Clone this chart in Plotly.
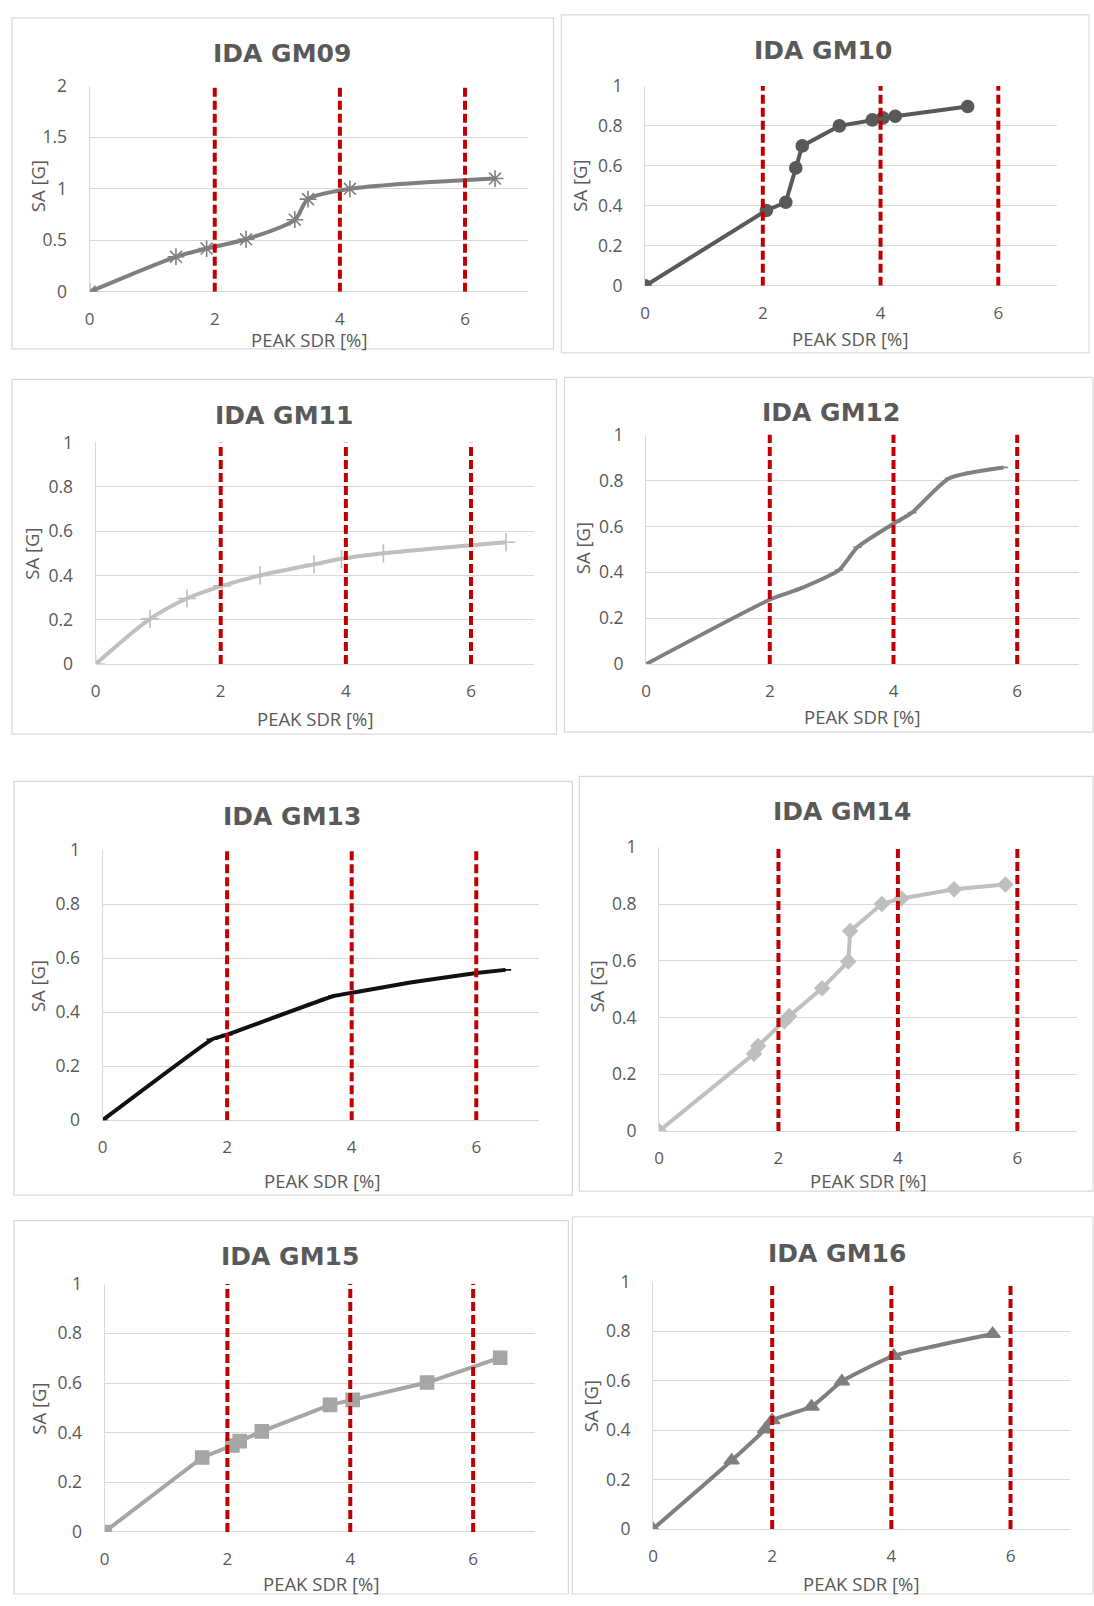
import plotly.graph_objects as go

W, H = 1094, 1606

# ---------------- data ----------------
titles = ["IDA GM09", "IDA GM10", "IDA GM11", "IDA GM12",
          "IDA GM13", "IDA GM14", "IDA GM15", "IDA GM16"]
x_label = "PEAK SDR [%]"
y_label = "SA [G]"
limit_sdr = [2, 4, 6]
x_ticks = [0, 2, 4, 6]

gm09_sdr = [0, 1.38, 1.87, 2.5, 3.28, 3.49, 4.16, 6.48]
gm09_sa = [0, 0.34, 0.42, 0.51, 0.70, 0.90, 1.0, 1.10]

gm10_sdr = [0, 2.06, 2.39, 2.56, 2.67, 3.30, 3.86, 4.04, 4.25, 5.48]
gm10_sa = [0, 0.377, 0.418, 0.59, 0.70, 0.80, 0.83, 0.84, 0.848, 0.897]

gm11_sdr = [0, 0.87, 1.46, 2.02, 2.63, 3.49, 3.93, 4.6, 6.56]
gm11_sa = [0, 0.204, 0.296, 0.353, 0.40, 0.45, 0.475, 0.50, 0.55]

gm12_sdr = [0, 2.04, 2.5, 3.12, 3.42, 4.05, 4.3, 4.9, 5.78]
gm12_sa = [0, 0.286, 0.33, 0.41, 0.51, 0.62, 0.66, 0.81, 0.857]

gm13_sdr = [0, 1.76, 2.0, 3.71, 4.03, 4.94, 6.0, 6.47]
gm13_sa = [0, 0.30, 0.317, 0.46, 0.473, 0.51, 0.545, 0.557]

gm14_sdr = [0, 1.59, 1.66, 2.10, 2.18, 2.73, 3.17, 3.20, 3.73, 4.06, 4.94, 5.80]
gm14_sa = [0, 0.272, 0.30, 0.387, 0.405, 0.503, 0.598, 0.705, 0.80, 0.82, 0.852, 0.869]

gm15_sdr = [0, 1.59, 2.08, 2.20, 2.56, 3.67, 4.04, 5.25, 6.44]
gm15_sa = [0, 0.30, 0.348, 0.366, 0.405, 0.512, 0.532, 0.602, 0.702]

gm16_sdr = [0, 1.32, 1.88, 2.0, 2.66, 3.17, 4.04, 5.70]
gm16_sa = [0, 0.277, 0.403, 0.44, 0.495, 0.597, 0.70, 0.789]

series_x = [gm09_sdr, gm10_sdr, gm11_sdr, gm12_sdr, gm13_sdr, gm14_sdr, gm15_sdr, gm16_sdr]
series_y = [gm09_sa, gm10_sa, gm11_sa, gm12_sa, gm13_sa, gm14_sa, gm15_sa, gm16_sa]
y_max = [2, 1, 1, 1, 1, 1, 1, 1]
y_dtick = [0.5, 0.2, 0.2, 0.2, 0.2, 0.2, 0.2, 0.2]

# ---------------- layout / style (pixels) ----------------
# plot area: left (x=0), right (x=7), top (y=max), bottom (y=0)
plot_px = [
    (85, 525, 74, 283),
    (643, 1057, 74, 277),
    (91, 531, 436, 661),
    (644, 1079, 428, 661),
    (98, 536, 850, 1124),
    (657, 1077, 847, 1135),
    (100, 532, 1290, 1542),
    (651, 1070, 1288, 1539),
]
border_px = [
    (7, 5, 551, 341),
    (559, 2, 1089, 345),
    (7, 372, 554, 732),
    (562, 370, 1093, 730),
    (9, 780, 570, 1200),
    (577, 775, 1093, 1196),
    (9, 1226, 566, 1605),
    (570, 1222, 1093, 1605),
]
title_px = [(278, 41), (822, 38), (280, 409), (830, 406),
            (288, 816), (841, 811), (286, 1262), (836, 1259)]
xtitle_px = [(305, 331), (849, 330), (311, 716), (861, 714),
             (318, 1185), (867, 1185), (317, 1594), (860, 1594)]
ytitle_px = [(33, 176), (577, 175), (27, 549), (581, 543),
             (32, 988), (594, 988), (34, 1417), (589, 1414)]

styles = [
    dict(color="#7f7f7f", symbol="asterisk-open", size=14, shape="spline", smooth=0.8),
    dict(color="#595959", symbol="circle", size=12, shape="linear", smooth=0),
    dict(color="#bfbfbf", symbol="cross-thin-open", size=13, shape="spline", smooth=0.8),
    dict(color="#808080", symbol="line-ew-open", size=6, shape="spline", smooth=0.6),
    dict(color="#111111", symbol="line-ew-open", size=8, shape="spline", smooth=0.3),
    dict(color="#bfbfbf", symbol="diamond", size=11, shape="linear", smooth=0),
    dict(color="#a6a6a6", symbol="square", size=13, shape="linear", smooth=0),
    dict(color="#7f7f7f", symbol="triangle-up", size=13, shape="spline", smooth=0.5),
]

TXT = "#595959"
GRID = "#d9d9d9"
RED = "#c00000"
FONT = "Open Sans"

fig = go.Figure()
annotations = []
shapes = []
layout_axes = {}

for i in range(8):
    k = "" if i == 0 else str(i + 1)
    xa, ya = "x" + k, "y" + k
    left, right, top, bottom = plot_px[i]
    st = styles[i]

    line_kw = dict(color=st["color"], width=4, shape=st["shape"])
    if st["shape"] == "spline":
        line_kw["smoothing"] = st["smooth"]
    mk = dict(symbol=st["symbol"], size=st["size"], color=st["color"],
              line=dict(color=st["color"], width=1.6))
    fig.add_trace(go.Scatter(x=series_x[i], y=series_y[i], mode="lines+markers",
                             line=line_kw, marker=mk, xaxis=xa, yaxis=ya,
                             showlegend=False, hoverinfo="x+y"))

    # red dashed limit lines (drawn above the curve)
    vx, vy = [], []
    for v in limit_sdr:
        vx += [v, v, None]
        vy += [0, y_max[i], None]
    fig.add_trace(go.Scatter(x=vx, y=vy, mode="lines",
                             line=dict(color=RED, width=4, dash="9px,4px"),
                             xaxis=xa, yaxis=ya, showlegend=False, hoverinfo="skip"))

    layout_axes["xaxis" + k] = dict(
        domain=[left / W, right / W], anchor=ya, range=[0, 7],
        tickvals=x_ticks, showgrid=False, zeroline=False, showline=False,
        ticks="", tickfont=dict(family=FONT, size=17, color=TXT),
        ticklabelstandoff=15, fixedrange=True)
    layout_axes["yaxis" + k] = dict(
        domain=[1 - bottom / H, 1 - top / H], anchor=xa, range=[0, y_max[i]],
        dtick=y_dtick[i], tick0=0, showgrid=True, gridcolor=GRID, gridwidth=1,
        zeroline=True, zerolinecolor=GRID, zerolinewidth=1,
        showline=True, linecolor=GRID, linewidth=1, ticks="",
        tickfont=dict(family=FONT, size=17.5, color=TXT), ticklabelstandoff=18,
        fixedrange=True)

    bx0, by0, bx1, by1 = border_px[i]
    shapes.append(dict(type="rect", xref="paper", yref="paper",
                       x0=bx0 / W, x1=bx1 / W, y0=1 - by1 / H, y1=1 - by0 / H,
                       line=dict(color=GRID, width=1.2), layer="below"))

    tx, ty = title_px[i]
    annotations.append(dict(text="<b>" + titles[i] + "</b>", xref="paper", yref="paper",
                            x=tx / W, y=1 - ty / H, xanchor="center", yanchor="middle",
                            showarrow=False,
                            font=dict(family="DejaVu Sans", size=25, color=TXT)))
    ax_, ay_ = xtitle_px[i]
    annotations.append(dict(text=x_label, xref="paper", yref="paper",
                            x=ax_ / W, y=1 - ay_ / H, xanchor="center", yanchor="middle",
                            showarrow=False, font=dict(family=FONT, size=18.5, color=TXT)))
    yx_, yy_ = ytitle_px[i]
    annotations.append(dict(text=y_label, xref="paper", yref="paper",
                            x=yx_ / W, y=1 - yy_ / H, xanchor="center", yanchor="middle",
                            textangle=-90, showarrow=False,
                            font=dict(family=FONT, size=18.5, color=TXT)))

fig.update_layout(
    width=W, height=H, autosize=False,
    margin=dict(l=0, r=0, t=0, b=0),
    paper_bgcolor="white", plot_bgcolor="white",
    annotations=annotations, shapes=shapes,
    **layout_axes,
)

fig.write_html("out.html", config={"displayModeBar": False},
               post_script="document.body.style.margin='0';document.body.style.padding='0';"
                           "document.documentElement.style.overflow='hidden';")
